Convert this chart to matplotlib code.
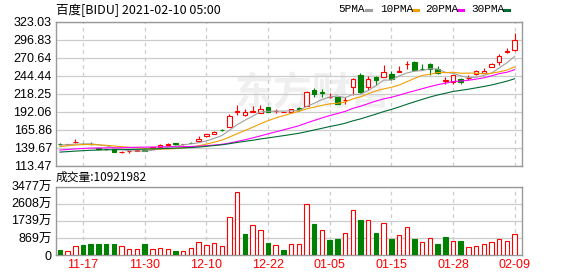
import numpy as np
import matplotlib.pyplot as plt
from matplotlib.lines import Line2D

plt.rcParams['font.family'] = ['Liberation Sans', 'Noto Sans CJK SC']

# trading days shown (MM-DD), 2020-11-12 .. 2021-02-09
dates = ['11-12', '11-13', '11-16', '11-17', '11-18', '11-19', '11-20', '11-23', '11-24', '11-25',
         '11-27', '11-30', '12-01', '12-02', '12-03', '12-04', '12-07', '12-08', '12-09', '12-10',
         '12-11', '12-14', '12-15', '12-16', '12-17', '12-18', '12-21', '12-22', '12-23', '12-24',
         '12-28', '12-29', '12-30', '12-31', '01-04', '01-05', '01-06', '01-07', '01-08', '01-11',
         '01-12', '01-13', '01-14', '01-15', '01-19', '01-20', '01-21', '01-22', '01-25', '01-26',
         '01-27', '01-28', '01-29', '02-01', '02-02', '02-03', '02-04', '02-05', '02-08', '02-09']

opens = [145.0, 144.3, 147.2, 145.5, 144.8, 138.5, 137.5, 136.9, 132.8, 134.2,
         135.0, 136.0, 139.4, 140.8, 143.5, 145.6, 144.2, 146.8, 148.5, 155.8,
         159.6, 165.5, 169.8, 191.5, 186.6, 191.9, 190.7, 198.0, 192.6, 191.3,
         191.6, 197.2, 199.9, 224.2, 220.7, 213.0, 213.4, 208.2, 228.0, 245.0,
         228.0, 242.5, 242.5, 246.5, 250.3, 261.3, 264.3, 254.5, 262.0, 254.6,
         237.2, 235.3, 240.2, 241.2, 246.5, 248.2, 257.6, 264.3, 279.5, 281.4]
highs = [145.8, 144.9, 151.9, 146.3, 147.0, 139.3, 138.2, 137.4, 134.3, 135.3,
         136.1, 136.7, 140.6, 144.5, 146.2, 146.1, 145.4, 148.3, 156.3, 160.0,
         163.2, 167.0, 188.3, 201.4, 195.1, 199.9, 201.4, 198.9, 196.0, 191.9,
         196.5, 198.9, 222.2, 226.5, 225.6, 218.4, 214.0, 213.4, 241.7, 248.9,
         243.6, 243.6, 259.6, 251.3, 258.1, 265.6, 265.4, 262.0, 262.5, 258.0,
         242.5, 245.5, 240.8, 245.0, 252.3, 256.0, 263.5, 276.1, 284.4, 306.3]
lows = [143.6, 144.0, 146.8, 144.6, 142.7, 136.6, 136.2, 132.6, 132.3, 132.4,
        134.5, 134.8, 138.7, 140.3, 143.1, 143.9, 143.7, 145.6, 148.0, 155.3,
        159.3, 164.0, 168.9, 186.8, 186.0, 191.3, 190.3, 191.0, 189.3, 191.0,
        191.2, 193.1, 199.5, 213.4, 213.4, 212.5, 203.3, 203.8, 215.9, 218.4,
        224.2, 230.5, 242.0, 237.7, 249.8, 254.6, 251.3, 253.0, 244.9, 247.3,
        232.9, 231.9, 232.9, 237.7, 245.8, 247.8, 257.2, 260.5, 277.6, 281.0]
closes = [144.5, 144.6, 147.6, 145.0, 144.2, 137.3, 136.8, 133.0, 133.6, 134.4,
          135.6, 135.2, 140.0, 143.8, 145.5, 144.3, 144.8, 146.4, 151.9, 159.2,
          162.5, 165.0, 185.8, 192.3, 191.4, 192.2, 195.1, 191.6, 193.1, 191.6,
          195.1, 196.5, 220.7, 217.4, 218.4, 213.4, 203.8, 208.6, 240.2, 220.7,
          240.2, 238.7, 249.8, 240.2, 250.8, 261.8, 252.3, 253.5, 254.6, 248.2,
          237.7, 245.0, 235.3, 241.7, 250.8, 251.2, 261.8, 273.0, 280.0, 296.0]
# volume, unit: 万 shares
volumes = [255, 204, 458, 509, 560, 560, 560, 560, 458, 305,
           305, 560, 305, 356, 305, 204, 204, 356, 662, 509,
           611, 458, 1918, 3222, 1069, 1510, 1256, 611, 492, 255,
           543, 543, 2580, 1578, 1256, 763, 797, 1103, 2274, 1781,
           1764, 1120, 1612, 814, 1001, 1408, 814, 645, 848, 560,
           916, 696, 696, 390, 441, 543, 645, 797, 696, 1092]
# estimated closes before the window (needed for the moving averages)
pre_closes = [124, 125, 126, 127, 126, 128, 129, 130, 128, 127,
              129, 130, 132, 133, 134, 133, 132, 131, 128, 128,
              133, 136, 139, 142, 145, 141, 143, 144, 142.5]

price_ticks = [113.47, 139.67, 165.86, 192.06, 218.25, 244.44, 270.64, 296.83, 323.03]
vol_ticks = [0, 869, 1739, 2608, 3477]
vol_labels = ['0', '869万', '1739万', '2608万', '3477万']
ma_periods = [5, 10, 20, 30]
ma_colors = ['#a0a0a0', '#f0a000', '#ff00ff', '#006b33']

RED = '#ff0000'
GREEN = '#008000'
GRID = '#cccccc'
FRAME = '#999999'

n = len(closes)
x = np.arange(n)
tick_idx = list(range(3, n, 8))

fig = plt.figure(figsize=(5.78, 2.76), dpi=100)
axp = fig.add_axes([56/578, 1 - 165.5/276, 466/578, 143.8/276])
axv = fig.add_axes([56/578, 1 - 255/276, 466/578, 68.3/276])

# watermark
axp.text(0.55, 0.50, '东方财富', transform=axp.transAxes, fontsize=28, fontweight='bold',
         color='#efefef', ha='center', va='center', family=['Noto Sans CJK SC'], zorder=0)

# candles
for i in range(n):
    o, h, l, c = opens[i], highs[i], lows[i], closes[i]
    up = c >= o
    col = RED if up else GREEN
    axp.vlines(i, l, h, color=col, lw=0.8, zorder=3)
    axp.bar(i, max(abs(c - o), 0.4), bottom=min(o, c), width=0.58,
            facecolor='white' if up else GREEN, edgecolor=col, lw=0.8, zorder=4)

# moving averages
all_c = np.array(pre_closes + closes)
k0 = len(pre_closes)
for p, col in zip(ma_periods, ma_colors):
    ma = [all_c[k0 + i - p + 1:k0 + i + 1].mean() for i in range(n)]
    axp.plot(x, ma, color=col, lw=0.8, zorder=5)

# volume, coloured by change vs previous close
for i in range(n):
    if i == 0:
        up = closes[0] >= opens[0]
    else:
        up = closes[i] >= closes[i - 1]
    col = RED if up else GREEN
    axv.bar(i, volumes[i], width=0.58, facecolor='white' if up else col,
            edgecolor=col, lw=0.8, zorder=3)

for ax in (axp, axv):
    ax.set_xlim(-0.5, 59.95)
    ax.set_xticks(tick_idx)
    ax.grid(axis='x', color=GRID, ls=(0, (3, 3)), lw=0.9)
    ax.grid(axis='y', color=GRID, ls='-', lw=0.9)
    ax.set_axisbelow(True)
    ax.tick_params(length=0, labelsize=9, pad=3)
    for s in ax.spines.values():
        s.set_color(FRAME)
        s.set_linewidth(1)

axp.set_ylim(price_ticks[0], price_ticks[-1])
axp.set_yticks(price_ticks)
axp.set_yticklabels(['%.2f' % t for t in price_ticks])
axp.set_xticklabels([])

axv.set_ylim(0, vol_ticks[-1])
axv.set_yticks(vol_ticks)
axv.set_yticklabels(vol_labels)
axv.set_xticklabels([dates[i] for i in tick_idx], color=RED)

# header texts
fig.text(56/578, 1 - 10/276, '百度[BIDU] 2021-02-10 05:00', fontsize=9,
         family=['Noto Sans CJK SC'], va='center', ha='left')
fig.text(56/578, 1 - 177/276, '成交量:10921982', fontsize=8.5,
         family=['Noto Sans CJK SC'], va='center', ha='left')

leg_x = [338.5, 380, 425, 471]
for j, (p, col) in enumerate(zip(ma_periods, ma_colors)):
    fig.text(leg_x[j]/578, 1 - 9/276, '%dPMA' % p, fontsize=8,
             family=['Liberation Mono'], va='center', ha='left')
    x0 = leg_x[j] + 27 + (6 if p >= 10 else 0)
    fig.add_artist(Line2D([x0/578, (x0 + 5)/578], [1 - 10/276, 1 - 10/276],
                          color=col, lw=2.2, transform=fig.transFigure))

fig.savefig('out.png', dpi=100)
